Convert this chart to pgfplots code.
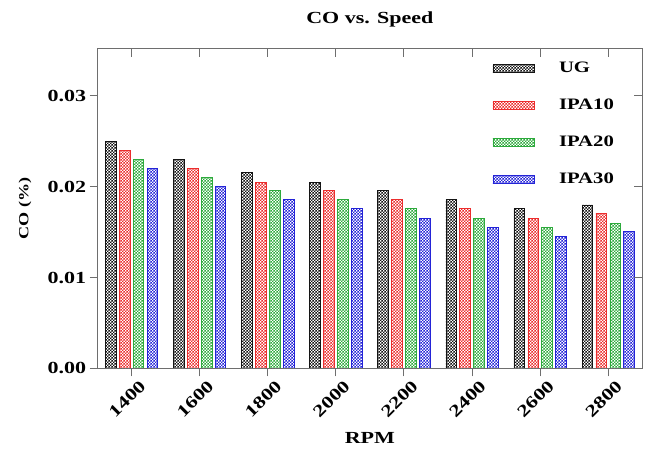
\documentclass[border=0pt]{standalone}
\usepackage{fontspec}
\setmainfont{Liberation Serif}[FakeStretch=1.3]
\usepackage{pgfplots}
\pgfplotsset{compat=1.18}
\usetikzlibrary{patterns}
\newcommand\fs[1]{\fontsize{#1bp}{#1bp}\selectfont}
\pgfdeclarepatternformonly{fchk}{\pgfpointorigin}{\pgfqpoint{3bp}{3bp}}{\pgfqpoint{3bp}{3bp}}{%
  \pgfpathrectangle{\pgfpointorigin}{\pgfqpoint{1.5bp}{1.5bp}}%
  \pgfpathrectangle{\pgfqpoint{1.5bp}{1.5bp}}{\pgfqpoint{1.5bp}{1.5bp}}%
  \pgfusepath{fill}}
\definecolor{cK}{RGB}{20,20,20}
\definecolor{cR}{RGB}{235,45,45}
\definecolor{cG}{RGB}{45,170,60}
\definecolor{cB}{RGB}{35,35,215}
\definecolor{axc}{RGB}{110,110,110}
\pgfplotsset{
  mybar/.style={draw=#1, pattern=fchk, pattern color=#1, line width=0.7bp,
    legend image code/.code={\draw[##1] (0bp,-4bp) rectangle (42bp,4bp);}},
}
\begin{document}
\begin{tikzpicture}
\begin{axis}[
  scale only axis, width=547bp, height=321bp,
  ybar=3.5bp, bar width=10.5bp,
  xmin=-0.5, xmax=7.5, ymin=0, ymax=0.0352,
  xtick={0,1,2,3,4,5,6,7},
  xticklabels={1400,1600,1800,2000,2200,2400,2600,2800},
  ytick={0,0.01,0.02,0.03},
  scaled y ticks=false,
  /pgf/number format/assume math mode=true,
  yticklabel style={/pgf/number format/fixed, /pgf/number format/fixed zerofill, /pgf/number format/precision=2},
  tick align=outside, xtick pos=left, ytick pos=left,
  major tick length=8bp,
  axis line style={axc, line width=1bp},
  every tick/.style={axc, line width=1bp},
  ticklabel style={font=\fs{17}\bfseries},
  xticklabel style={rotate=45, anchor=north east, inner sep=2bp, xshift=5bp, yshift=-5bp},
  xlabel={RPM}, ylabel={CO (\%)},
  xlabel style={font=\fs{17}\bfseries, at={(axis description cs:0.5,-0.218)}, anchor=center},
  ylabel style={font=\fs{14}\bfseries, at={(axis description cs:-0.133,0.5)}, anchor=center, rotate=0},
  title={CO vs. Speed},
  title style={font=\fs{17}\bfseries, at={(axis description cs:0.5,1.072)}, anchor=center},
  legend style={at={(axis description cs:0.725,0.965)}, anchor=north west, draw=none, fill=none,
    font=\fs{16}\bfseries, row sep=21bp, inner sep=0pt,
    /tikz/every odd column/.append style={column sep=22bp}},
  legend cell align=left,
]
\addplot[mybar=cK] coordinates {(0,0.0250) (1,0.0230) (2,0.0216) (3,0.0205) (4,0.0196) (5,0.0186) (6,0.0176) (7,0.0180)};
\addplot[mybar=cR] coordinates {(0,0.0240) (1,0.0220) (2,0.0205) (3,0.0196) (4,0.0186) (5,0.0176) (6,0.0165) (7,0.0171)};
\addplot[mybar=cG] coordinates {(0,0.0230) (1,0.0210) (2,0.0196) (3,0.0186) (4,0.0176) (5,0.0165) (6,0.0155) (7,0.0160)};
\addplot[mybar=cB] coordinates {(0,0.0220) (1,0.0200) (2,0.0186) (3,0.0176) (4,0.0165) (5,0.0155) (6,0.0145) (7,0.0151)};
\legend{UG,IPA10,IPA20,IPA30}
\end{axis}
\begin{axis}[
  scale only axis, width=547bp, height=321bp,
  xmin=-0.5, xmax=7.5, ymin=0, ymax=0.0352,
  xtick={0,1,2,3,4,5,6,7}, ytick={0,0.01,0.02,0.03},
  xticklabels={}, yticklabels={}, scaled y ticks=false, scaled x ticks=false,
  tick align=inside, xtick pos=right, ytick pos=right,
  major tick length=8bp,
  axis line style={axc, line width=1bp},
  every tick/.style={axc, line width=1bp},
]
\end{axis}
\path (-98bp,-84bp) rectangle (551bp,370bp);
\end{tikzpicture}
\end{document}
